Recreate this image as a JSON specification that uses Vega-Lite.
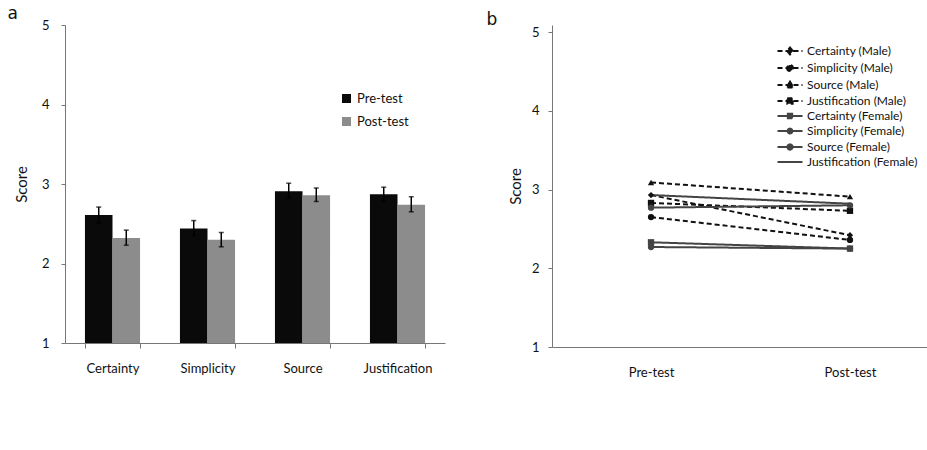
{
  "$schema": "https://vega.github.io/schema/vega-lite/v6.json",
  "padding": {"left": 7, "top": 5, "right": 0, "bottom": 0},
  "background": "white",
  "spacing": 41,
  "resolve": {"scale": {"color": "independent", "shape": "independent", "strokeDash": "independent"}, "legend": {"color": "independent"}},
  "config": {
    "font": "Lato",
    "view": {"stroke": null},
    "axis": {"grid": false, "domainColor": "#777", "tickColor": "#777", "labelColor": "#111", "titleColor": "#111", "labelFontSize": 13, "titleFontSize": 15, "titleFontWeight": "normal"},
    "legend": {"labelColor": "#111"}
  },
  "hconcat": [
    {
      "width": 380,
      "height": 318,
      "title": {"text": "a", "anchor": "start", "frame": "bounds", "fontSize": 17, "fontWeight": "normal", "font": "DejaVu Sans", "color": "#111", "offset": 1, "dy": 5, "dx": -7},
      "data": {"values": [
        {"category": "Certainty", "test": "Pre-test", "score": 2.61, "lo": 2.51, "hi": 2.71},
        {"category": "Certainty", "test": "Post-test", "score": 2.32, "lo": 2.23, "hi": 2.42},
        {"category": "Simplicity", "test": "Pre-test", "score": 2.44, "lo": 2.35, "hi": 2.54},
        {"category": "Simplicity", "test": "Post-test", "score": 2.30, "lo": 2.21, "hi": 2.39},
        {"category": "Source", "test": "Pre-test", "score": 2.91, "lo": 2.82, "hi": 3.01},
        {"category": "Source", "test": "Post-test", "score": 2.86, "lo": 2.78, "hi": 2.95},
        {"category": "Justification", "test": "Pre-test", "score": 2.87, "lo": 2.78, "hi": 2.96},
        {"category": "Justification", "test": "Post-test", "score": 2.74, "lo": 2.65, "hi": 2.84}
      ]},
      "encoding": {
        "x": {"field": "category", "type": "nominal", "sort": ["Certainty", "Simplicity", "Source", "Justification"], "scale": {"paddingInner": 0.42, "paddingOuter": 0.21}, "axis": {"title": null, "labelAngle": 0, "tickBand": "extent", "tickSize": 5, "labelPadding": 14}},
        "xOffset": {"field": "test", "type": "nominal", "sort": ["Pre-test", "Post-test"], "scale": {"paddingInner": 0}}
      },
      "layer": [
        {
          "mark": {"type": "bar"},
          "encoding": {
            "y": {"field": "score", "type": "quantitative", "scale": {"domain": [1, 5], "nice": false, "zero": false}, "axis": {"values": [1, 2, 3, 4, 5], "format": "d", "title": "Score", "tickSize": 4, "labelPadding": 12, "titlePadding": 12}},
            "y2": {"datum": 1},
            "color": {"field": "test", "type": "nominal", "sort": ["Pre-test", "Post-test"], "scale": {"domain": ["Pre-test", "Post-test"], "range": ["#0a0a0a", "#8c8c8c"]},
              "legend": {"title": null, "orient": "none", "legendX": 275, "legendY": 67, "symbolType": "square", "symbolSize": 81, "symbolStrokeWidth": 0, "labelFontSize": 13, "rowPadding": 9, "labelOffset": 4}}
          }
        },
        {
          "mark": {"type": "rule", "color": "black", "strokeWidth": 1.5},
          "encoding": {"y": {"field": "lo", "type": "quantitative"}, "y2": {"field": "hi"}}
        },
        {
          "mark": {"type": "tick", "color": "black", "size": 5, "thickness": 1.5},
          "encoding": {"y": {"field": "hi", "type": "quantitative"}}
        },
        {
          "mark": {"type": "tick", "color": "black", "size": 5, "thickness": 1.5},
          "encoding": {"y": {"field": "lo", "type": "quantitative"}}
        }
      ]
    },
    {
      "width": 378,
      "height": 322,
      "title": {"text": "b", "anchor": "start", "frame": "bounds", "fontSize": 17, "fontWeight": "normal", "font": "DejaVu Sans", "color": "#111", "offset": 1, "dy": 5, "dx": -22},
      "data": {"values": [
        {"series": "Certainty (Male)", "time": "Pre-test", "score": 2.93},
        {"series": "Certainty (Male)", "time": "Post-test", "score": 2.42},
        {"series": "Simplicity (Male)", "time": "Pre-test", "score": 2.65},
        {"series": "Simplicity (Male)", "time": "Post-test", "score": 2.36},
        {"series": "Source (Male)", "time": "Pre-test", "score": 3.09},
        {"series": "Source (Male)", "time": "Post-test", "score": 2.91},
        {"series": "Justification (Male)", "time": "Pre-test", "score": 2.83},
        {"series": "Justification (Male)", "time": "Post-test", "score": 2.73},
        {"series": "Certainty (Female)", "time": "Pre-test", "score": 2.33},
        {"series": "Certainty (Female)", "time": "Post-test", "score": 2.25},
        {"series": "Simplicity (Female)", "time": "Pre-test", "score": 2.27},
        {"series": "Simplicity (Female)", "time": "Post-test", "score": 2.25},
        {"series": "Source (Female)", "time": "Pre-test", "score": 2.77},
        {"series": "Source (Female)", "time": "Post-test", "score": 2.80},
        {"series": "Justification (Female)", "time": "Pre-test", "score": 2.93},
        {"series": "Justification (Female)", "time": "Post-test", "score": 2.82}
      ]},
      "encoding": {
        "x": {"field": "time", "type": "ordinal", "sort": ["Pre-test", "Post-test"], "scale": {"type": "point", "padding": 0.45, "align": 0.553}, "axis": {"title": null, "labelAngle": 0, "tickSize": 0, "labelPadding": 19}},
        "y": {"field": "score", "type": "quantitative", "scale": {"domain": [1, 5.09], "nice": false, "zero": false}, "axis": {"values": [1, 2, 3, 4, 5], "format": "d", "title": "Score", "tickSize": 4, "labelPadding": 9, "titlePadding": 8}},
        "color": {"field": "series", "type": "nominal",
          "scale": {"domain": ["Certainty (Male)", "Simplicity (Male)", "Source (Male)", "Justification (Male)", "Certainty (Female)", "Simplicity (Female)", "Source (Female)", "Justification (Female)"], "range": ["#111", "#111", "#111", "#111", "#444", "#444", "#444", "#444"]},
          "legend": {"title": null, "orient": "none", "legendX": 232, "legendY": 20, "symbolSize": 100, "symbolStrokeWidth": 1.8, "labelFontSize": 12, "rowPadding": 2, "labelOffset": 11,
            "encode": {"symbols": {"update": {
              "shape": {"signal": "datum.value == 'Certainty (Male)' ? 'M-2.5,0H2.5M0,-0.7L0.6,0L0,0.7L-0.6,0Z' : datum.value == 'Simplicity (Male)' ? 'M-2.5,0H2.5M-0.6,0A0.6,0.6,0,1,0,0.6,0A0.6,0.6,0,1,0,-0.6,0Z' : datum.value == 'Source (Male)' ? 'M-2.5,0H2.5M0,-0.7L0.7,0.5H-0.7Z' : datum.value == 'Justification (Male)' ? 'M-2.5,0H2.5M-0.55,-0.55H0.55V0.55H-0.55Z' : datum.value == 'Certainty (Female)' ? 'M-2.5,0H2.5M-0.45,-0.45H0.45V0.45H-0.45Z' : datum.value == 'Simplicity (Female)' ? 'M-2.5,0H2.5M-0.5,0A0.5,0.5,0,1,0,0.5,0A0.5,0.5,0,1,0,-0.5,0Z' : datum.value == 'Source (Female)' ? 'M-2.5,0H2.5M-0.55,0A0.55,0.55,0,1,0,0.55,0A0.55,0.55,0,1,0,-0.55,0Z' : 'M-2.5,0H2.5'"},
              "size": {"value": 100},
              "fill": {"signal": "indexOf(datum.value, 'Female') >= 0 ? '#444' : '#111'"},
              "fillOpacity": {"value": 1},
              "stroke": {"signal": "indexOf(datum.value, 'Female') >= 0 ? '#444' : '#111'"},
              "strokeOpacity": {"value": 1},
              "strokeWidth": {"value": 1.8}
            }}}}
        }
      },
      "layer": [
        {
          "mark": {"type": "line", "strokeWidth": 2},
          "encoding": {
            "strokeDash": {"field": "series", "type": "nominal",
              "scale": {"domain": ["Certainty (Male)", "Simplicity (Male)", "Source (Male)", "Justification (Male)", "Certainty (Female)", "Simplicity (Female)", "Source (Female)", "Justification (Female)"], "range": [[5, 3], [5, 3], [5, 3], [5, 3], [1, 0], [1, 0], [1, 0], [1, 0]]}}
          }
        },
        {
          "transform": [{"filter": "datum.series == 'Certainty (Male)'"}],
          "mark": {"type": "point", "filled": true, "size": 40, "opacity": 1, "shape": "diamond"}
        },
        {
          "transform": [{"filter": "datum.series == 'Source (Male)'"}],
          "mark": {"type": "point", "filled": true, "size": 40, "opacity": 1, "shape": "triangle-up"}
        },
        {
          "transform": [{"filter": "datum.series == 'Justification (Male)' || datum.series == 'Certainty (Female)'"}],
          "mark": {"type": "point", "filled": true, "size": 40, "opacity": 1, "shape": "square"}
        },
        {
          "transform": [{"filter": "datum.series == 'Simplicity (Male)' || datum.series == 'Simplicity (Female)' || datum.series == 'Source (Female)'"}],
          "mark": {"type": "point", "filled": true, "size": 40, "opacity": 1, "shape": "circle"}
        }
      ]
    }
  ]
}
